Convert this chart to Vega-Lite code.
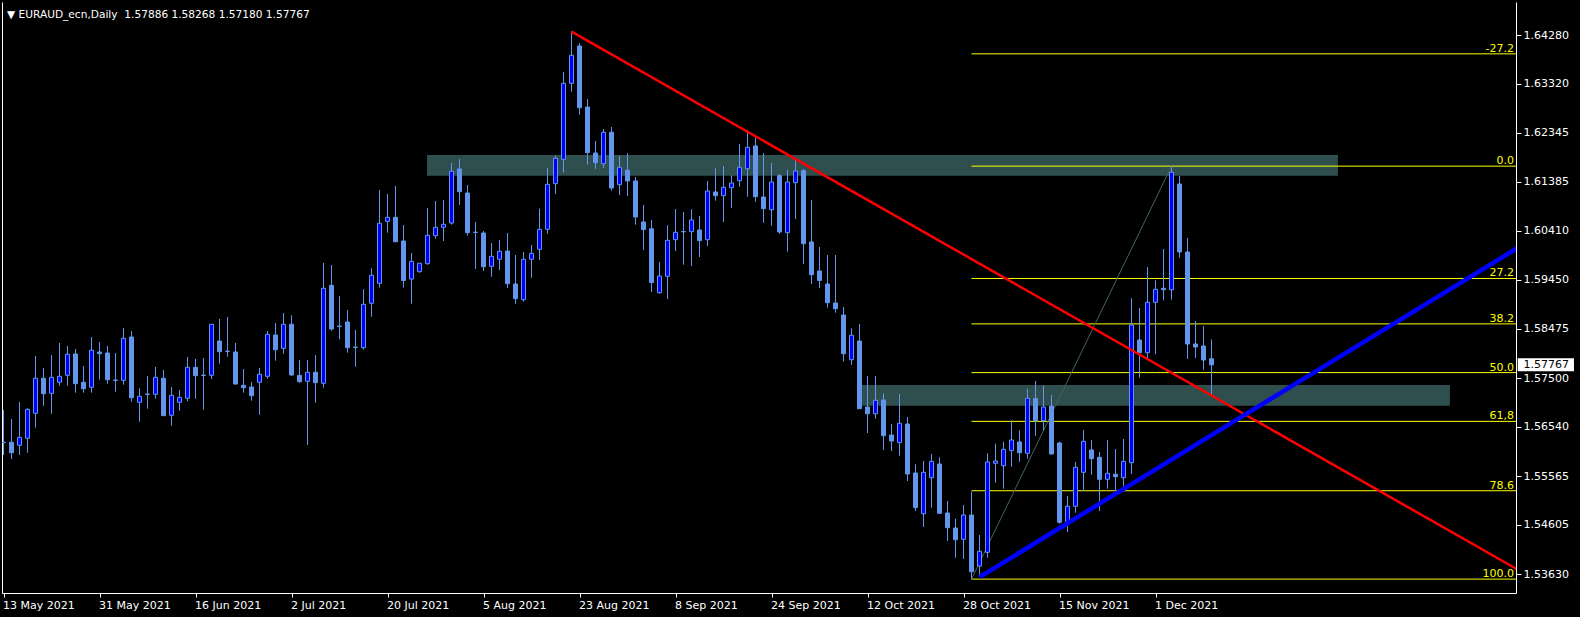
{
  "$schema": "https://vega.github.io/schema/vega-lite/v6.json",
  "width": 1514,
  "height": 591,
  "autosize": {"type": "none"},
  "padding": {"left": 2, "top": 2, "right": 64, "bottom": 24},
  "background": "#000000",
  "title": {"text": "▼ EURAUD_ecn,Daily\u00a0 1.57886 1.58268 1.57180 1.57767", "anchor": "start", "frame": "group", "offset": -27, "dx": 5, "color": "#FFFFFF", "font": "DejaVu Sans", "fontSize": 10.6, "fontWeight": "normal", "baseline": "alphabetic"},
  "resolve": {"axis": {"x": "independent", "y": "independent"}},
  "config": {
    "view": {"stroke": null},
    "scale": {"continuousPadding": 0},
    "axis": {"domain": true, "domainColor": "#FFFFFF", "domainWidth": 1, "grid": false},
    "axisX": {"ticks": true, "tickColor": "#FFFFFF", "tickSize": 4, "labelColor": "#FFFFFF", "labelFont": "DejaVu Sans", "labelFontSize": 11, "labelAlign": "left", "labelOffset": -1, "labelPadding": 2, "labelFlush": false, "labelOverlap": false},
    "axisY": {"ticks": true, "tickColor": "#FFFFFF", "tickSize": 5, "labelColor": "#FFFFFF", "labelFont": "DejaVu Sans", "labelFontSize": 11, "labelPadding": 2, "labelFlush": false, "labelOverlap": false}
  },
  "datasets": {
    "zones": [
      {"i": 52.94, "i2": 166.8, "p": 1.61910, "p2": 1.61501},
      {"i": 106.75, "i2": 180.8, "p": 1.57368, "p2": 1.56959}
    ],
    "fib": [
      {"lvl": "-27.2", "p": 1.63908, "i": 121, "i2": 189.0625},
      {"lvl": "0.0", "p": 1.61690, "i": 121, "i2": 189.0625},
      {"lvl": "27.2", "p": 1.59472, "i": 121, "i2": 189.0625},
      {"lvl": "38.2", "p": 1.58575, "i": 121, "i2": 189.0625},
      {"lvl": "50.0", "p": 1.57613, "i": 121, "i2": 189.0625},
      {"lvl": "61,8", "p": 1.56650, "i": 121, "i2": 189.0625},
      {"lvl": "78.6", "p": 1.55280, "i": 121, "i2": 189.0625},
      {"lvl": "100.0", "p": 1.53535, "i": 121, "i2": 189.0625}
    ],
    "base": [{"i": 121, "p": 1.53535}, {"i": 146, "p": 1.61690}],
    "red": [{"i": 71, "p": 1.64345}, {"i": 195, "p": 1.53210}],
    "blue": [{"i": 122, "p": 1.53575}, {"i": 195, "p": 1.60629}],
    "box": [{"i": 189.28, "i2": 196.31, "p": 1.57896, "p2": 1.57639, "t": "1.57767", "ti": 190, "tp": 1.57767}],
    "candles": [
      {"i":0,"o":1.56237,"h":1.56875,"l":1.55986,"c":1.56230},
      {"i":1,"o":1.56237,"h":1.56697,"l":1.55907,"c":1.56031},
      {"i":2,"o":1.56177,"h":1.57033,"l":1.55986,"c":1.56335},
      {"i":3,"o":1.56316,"h":1.56908,"l":1.56031,"c":1.56888},
      {"i":4,"o":1.56809,"h":1.57941,"l":1.56525,"c":1.57501},
      {"i":5,"o":1.57501,"h":1.57704,"l":1.56959,"c":1.57196},
      {"i":6,"o":1.57204,"h":1.57961,"l":1.56801,"c":1.57520},
      {"i":7,"o":1.57422,"h":1.58198,"l":1.57354,"c":1.57540},
      {"i":8,"o":1.57560,"h":1.58138,"l":1.57354,"c":1.57975},
      {"i":9,"o":1.57980,"h":1.58079,"l":1.57216,"c":1.57394},
      {"i":10,"o":1.57422,"h":1.57743,"l":1.57216,"c":1.57295},
      {"i":11,"o":1.57323,"h":1.58316,"l":1.57216,"c":1.58054},
      {"i":12,"o":1.58020,"h":1.58217,"l":1.57473,"c":1.57986},
      {"i":13,"o":1.58000,"h":1.58138,"l":1.57394,"c":1.57473},
      {"i":14,"o":1.57465,"h":1.58000,"l":1.57236,"c":1.57458},
      {"i":15,"o":1.57461,"h":1.58494,"l":1.57374,"c":1.58290},
      {"i":16,"o":1.58316,"h":1.58435,"l":1.57038,"c":1.57117},
      {"i":17,"o":1.57027,"h":1.57303,"l":1.56644,"c":1.57145},
      {"i":18,"o":1.57188,"h":1.57546,"l":1.56900,"c":1.57182},
      {"i":19,"o":1.57185,"h":1.57724,"l":1.57098,"c":1.57520},
      {"i":20,"o":1.57501,"h":1.57664,"l":1.56758,"c":1.56762},
      {"i":21,"o":1.56770,"h":1.57329,"l":1.56565,"c":1.57165},
      {"i":22,"o":1.57027,"h":1.57270,"l":1.56861,"c":1.57125},
      {"i":23,"o":1.57106,"h":1.57921,"l":1.57046,"c":1.57718},
      {"i":24,"o":1.57718,"h":1.57882,"l":1.57098,"c":1.57552},
      {"i":25,"o":1.57563,"h":1.57901,"l":1.56880,"c":1.57557},
      {"i":26,"o":1.57560,"h":1.58573,"l":1.57487,"c":1.58567},
      {"i":27,"o":1.58237,"h":1.58672,"l":1.57789,"c":1.58026},
      {"i":28,"o":1.58036,"h":1.58711,"l":1.57927,"c":1.58032},
      {"i":29,"o":1.58020,"h":1.58198,"l":1.57374,"c":1.57388},
      {"i":30,"o":1.57362,"h":1.57684,"l":1.57216,"c":1.57315},
      {"i":31,"o":1.57329,"h":1.57428,"l":1.57058,"c":1.57157},
      {"i":32,"o":1.57422,"h":1.57704,"l":1.56782,"c":1.57580},
      {"i":33,"o":1.57540,"h":1.58435,"l":1.57493,"c":1.58369},
      {"i":34,"o":1.58356,"h":1.58593,"l":1.57848,"c":1.58065},
      {"i":35,"o":1.58093,"h":1.58790,"l":1.57986,"c":1.58567},
      {"i":36,"o":1.58567,"h":1.58745,"l":1.57552,"c":1.57566},
      {"i":37,"o":1.57560,"h":1.57862,"l":1.57414,"c":1.57433},
      {"i":38,"o":1.57441,"h":1.57862,"l":1.56183,"c":1.57619},
      {"i":39,"o":1.57619,"h":1.57961,"l":1.57019,"c":1.57414},
      {"i":40,"o":1.57402,"h":1.59778,"l":1.57315,"c":1.59278},
      {"i":41,"o":1.59337,"h":1.59738,"l":1.58441,"c":1.58474},
      {"i":42,"o":1.58530,"h":1.59126,"l":1.58271,"c":1.58524},
      {"i":43,"o":1.58612,"h":1.58849,"l":1.58006,"c":1.58105},
      {"i":44,"o":1.58116,"h":1.58454,"l":1.57730,"c":1.58110},
      {"i":45,"o":1.58105,"h":1.59258,"l":1.58065,"c":1.58962},
      {"i":46,"o":1.58982,"h":1.59673,"l":1.58717,"c":1.59535},
      {"i":47,"o":1.59377,"h":1.61219,"l":1.59290,"c":1.60562},
      {"i":48,"o":1.60601,"h":1.61140,"l":1.60376,"c":1.60680},
      {"i":49,"o":1.60680,"h":1.61298,"l":1.60190,"c":1.60198},
      {"i":50,"o":1.60212,"h":1.60528,"l":1.59290,"c":1.59432},
      {"i":51,"o":1.59460,"h":1.59975,"l":1.58974,"c":1.59811},
      {"i":52,"o":1.59606,"h":1.59778,"l":1.59586,"c":1.59772},
      {"i":53,"o":1.59764,"h":1.60864,"l":1.59744,"c":1.60325},
      {"i":54,"o":1.60317,"h":1.61002,"l":1.60257,"c":1.60483},
      {"i":55,"o":1.60483,"h":1.61022,"l":1.60212,"c":1.60542},
      {"i":56,"o":1.60567,"h":1.61752,"l":1.60534,"c":1.61588},
      {"i":57,"o":1.61634,"h":1.61831,"l":1.60923,"c":1.61186},
      {"i":58,"o":1.61160,"h":1.61318,"l":1.60317,"c":1.60376},
      {"i":59,"o":1.60386,"h":1.60587,"l":1.59659,"c":1.60381},
      {"i":60,"o":1.60370,"h":1.60409,"l":1.59620,"c":1.59704},
      {"i":61,"o":1.59712,"h":1.60172,"l":1.59507,"c":1.59910},
      {"i":62,"o":1.59851,"h":1.60232,"l":1.59639,"c":1.60009},
      {"i":63,"o":1.60015,"h":1.60370,"l":1.59284,"c":1.59369},
      {"i":64,"o":1.59363,"h":1.59935,"l":1.58974,"c":1.59073},
      {"i":65,"o":1.59053,"h":1.59995,"l":1.59013,"c":1.59851},
      {"i":66,"o":1.59851,"h":1.60133,"l":1.59487,"c":1.59969},
      {"i":67,"o":1.60048,"h":1.60850,"l":1.59837,"c":1.60443},
      {"i":68,"o":1.60443,"h":1.61654,"l":1.60356,"c":1.61332},
      {"i":69,"o":1.61344,"h":1.61897,"l":1.61140,"c":1.61845},
      {"i":70,"o":1.61825,"h":1.63549,"l":1.61561,"c":1.63326},
      {"i":71,"o":1.63326,"h":1.64350,"l":1.63160,"c":1.63879},
      {"i":72,"o":1.64063,"h":1.64122,"l":1.62706,"c":1.62844},
      {"i":73,"o":1.62858,"h":1.63016,"l":1.61719,"c":1.61956},
      {"i":74,"o":1.61950,"h":1.62187,"l":1.61634,"c":1.61758},
      {"i":75,"o":1.61739,"h":1.62424,"l":1.61654,"c":1.62359},
      {"i":76,"o":1.62359,"h":1.62463,"l":1.61205,"c":1.61259},
      {"i":77,"o":1.61324,"h":1.61891,"l":1.61120,"c":1.61667},
      {"i":78,"o":1.61608,"h":1.61950,"l":1.61101,"c":1.61397},
      {"i":79,"o":1.61397,"h":1.61476,"l":1.60534,"c":1.60686},
      {"i":80,"o":1.60587,"h":1.60923,"l":1.60034,"c":1.60439},
      {"i":81,"o":1.60453,"h":1.60627,"l":1.59205,"c":1.59392},
      {"i":82,"o":1.59191,"h":1.59797,"l":1.59171,"c":1.59521},
      {"i":83,"o":1.59515,"h":1.60522,"l":1.59067,"c":1.60226},
      {"i":84,"o":1.60238,"h":1.60844,"l":1.60015,"c":1.60384},
      {"i":85,"o":1.60399,"h":1.60785,"l":1.59744,"c":1.60393},
      {"i":86,"o":1.60396,"h":1.60838,"l":1.59718,"c":1.60627},
      {"i":87,"o":1.60429,"h":1.60706,"l":1.59896,"c":1.60218},
      {"i":88,"o":1.60238,"h":1.61397,"l":1.60113,"c":1.61199},
      {"i":89,"o":1.61180,"h":1.61648,"l":1.61008,"c":1.61107},
      {"i":90,"o":1.61107,"h":1.61693,"l":1.60587,"c":1.61272},
      {"i":91,"o":1.61265,"h":1.61509,"l":1.60864,"c":1.61357},
      {"i":92,"o":1.61403,"h":1.62128,"l":1.61284,"c":1.61667},
      {"i":93,"o":1.61640,"h":1.62404,"l":1.61087,"c":1.62062},
      {"i":94,"o":1.62088,"h":1.62260,"l":1.60988,"c":1.61087},
      {"i":95,"o":1.61081,"h":1.61950,"l":1.60573,"c":1.60850},
      {"i":96,"o":1.60830,"h":1.61752,"l":1.60514,"c":1.61377},
      {"i":97,"o":1.61502,"h":1.61535,"l":1.60356,"c":1.60390},
      {"i":98,"o":1.60376,"h":1.61614,"l":1.60001,"c":1.61377},
      {"i":99,"o":1.61363,"h":1.61817,"l":1.60646,"c":1.61595},
      {"i":100,"o":1.61600,"h":1.61634,"l":1.59758,"c":1.60159},
      {"i":101,"o":1.60192,"h":1.61022,"l":1.59363,"c":1.59546},
      {"i":102,"o":1.59620,"h":1.60093,"l":1.59284,"c":1.59432},
      {"i":103,"o":1.59363,"h":1.59935,"l":1.58895,"c":1.58994},
      {"i":104,"o":1.58988,"h":1.59935,"l":1.58796,"c":1.58875},
      {"i":105,"o":1.58751,"h":1.58909,"l":1.57832,"c":1.57986},
      {"i":106,"o":1.57868,"h":1.58488,"l":1.57769,"c":1.58350},
      {"i":107,"o":1.58237,"h":1.58573,"l":1.56895,"c":1.56900},
      {"i":108,"o":1.56934,"h":1.57546,"l":1.56420,"c":1.56801},
      {"i":109,"o":1.56801,"h":1.57546,"l":1.56703,"c":1.57066},
      {"i":110,"o":1.57072,"h":1.57204,"l":1.56085,"c":1.56367},
      {"i":111,"o":1.56381,"h":1.56598,"l":1.56065,"c":1.56262},
      {"i":112,"o":1.56229,"h":1.57191,"l":1.55972,"c":1.56612},
      {"i":113,"o":1.56598,"h":1.56736,"l":1.55472,"c":1.55611},
      {"i":114,"o":1.55630,"h":1.55802,"l":1.54880,"c":1.54945},
      {"i":115,"o":1.54827,"h":1.55867,"l":1.54564,"c":1.55644},
      {"i":116,"o":1.55538,"h":1.56006,"l":1.54945,"c":1.55861},
      {"i":117,"o":1.55808,"h":1.55940,"l":1.54821,"c":1.54835},
      {"i":118,"o":1.54841,"h":1.55078,"l":1.54288,"c":1.54550},
      {"i":119,"o":1.54544,"h":1.54728,"l":1.53958,"c":1.54313},
      {"i":120,"o":1.54321,"h":1.54999,"l":1.53932,"c":1.54801},
      {"i":121,"o":1.54801,"h":1.55261,"l":1.53535,"c":1.53681},
      {"i":122,"o":1.53794,"h":1.54406,"l":1.53583,"c":1.54084},
      {"i":123,"o":1.54064,"h":1.56019,"l":1.53958,"c":1.55848},
      {"i":124,"o":1.55822,"h":1.56209,"l":1.55439,"c":1.55867},
      {"i":125,"o":1.55775,"h":1.56249,"l":1.55320,"c":1.56098},
      {"i":126,"o":1.56071,"h":1.56671,"l":1.55755,"c":1.56282},
      {"i":127,"o":1.56243,"h":1.56474,"l":1.55854,"c":1.56031},
      {"i":128,"o":1.56019,"h":1.57289,"l":1.55913,"c":1.57106},
      {"i":129,"o":1.57098,"h":1.57447,"l":1.56361,"c":1.56663},
      {"i":130,"o":1.56663,"h":1.57354,"l":1.56474,"c":1.56934},
      {"i":131,"o":1.56954,"h":1.57171,"l":1.56000,"c":1.56006},
      {"i":132,"o":1.56223,"h":1.56249,"l":1.54629,"c":1.54657},
      {"i":133,"o":1.54669,"h":1.55176,"l":1.54465,"c":1.54973},
      {"i":134,"o":1.54973,"h":1.55848,"l":1.54846,"c":1.55743},
      {"i":135,"o":1.55644,"h":1.56480,"l":1.55275,"c":1.56256},
      {"i":136,"o":1.56085,"h":1.56282,"l":1.55597,"c":1.55913},
      {"i":137,"o":1.55940,"h":1.56045,"l":1.54880,"c":1.55506},
      {"i":138,"o":1.55506,"h":1.56282,"l":1.55320,"c":1.55625},
      {"i":139,"o":1.55605,"h":1.56104,"l":1.55275,"c":1.55557},
      {"i":140,"o":1.55538,"h":1.56302,"l":1.55328,"c":1.55861},
      {"i":141,"o":1.55834,"h":1.59080,"l":1.55611,"c":1.58553},
      {"i":142,"o":1.58257,"h":1.58889,"l":1.57512,"c":1.58006},
      {"i":143,"o":1.58006,"h":1.59699,"l":1.57882,"c":1.59001},
      {"i":144,"o":1.59001,"h":1.59436,"l":1.57975,"c":1.59258},
      {"i":145,"o":1.59278,"h":1.60054,"l":1.59041,"c":1.59250},
      {"i":146,"o":1.59250,"h":1.61690,"l":1.59053,"c":1.61569},
      {"i":147,"o":1.61338,"h":1.61496,"l":1.59882,"c":1.59995},
      {"i":148,"o":1.59995,"h":1.60271,"l":1.57882,"c":1.58178},
      {"i":149,"o":1.58178,"h":1.58632,"l":1.57901,"c":1.58119},
      {"i":150,"o":1.58138,"h":1.58533,"l":1.57664,"c":1.57862},
      {"i":151,"o":1.57886,"h":1.58268,"l":1.57180,"c":1.57767}
    ]
  },
  "layer": [
    {
      "data": {"name": "zones"},
      "mark": {"type": "rect", "fill": "#2F4F4F", "clip": true},
      "encoding": {
        "x": {"field": "i", "type": "quantitative", "scale": {"domain": [-0.1875, 189.0625], "nice": false, "zero": false, "padding": 0}, "axis": null},
        "x2": {"field": "i2"},
        "y": {"field": "p", "type": "quantitative", "scale": {"domain": [1.532606, 1.649317], "nice": false, "zero": false, "padding": 0},
          "axis": {"orient": "left", "title": null, "ticks": false, "labels": false, "domain": true}},
        "y2": {"field": "p2"}
      }
    },
    {
      "data": {"name": "fib"},
      "mark": {"type": "rule", "color": "#FFFF00", "strokeWidth": 1, "clip": true},
      "encoding": {
        "x": {"field": "i", "type": "quantitative", "scale": {"domain": [-0.1875, 189.0625], "nice": false, "zero": false, "padding": 0}, "axis": null},
        "x2": {"field": "i2"},
        "y": {"field": "p", "type": "quantitative", "scale": {"domain": [1.532606, 1.649317], "nice": false, "zero": false, "padding": 0}, "axis": null}
      }
    },
    {
      "data": {"name": "base"},
      "mark": {"type": "line", "color": "#46635E", "strokeWidth": 1, "clip": true},
      "encoding": {
        "x": {"field": "i", "type": "quantitative", "scale": {"domain": [-0.1875, 189.0625], "nice": false, "zero": false, "padding": 0}, "axis": null},
        "y": {"field": "p", "type": "quantitative", "scale": {"domain": [1.532606, 1.649317], "nice": false, "zero": false, "padding": 0}, "axis": null}
      }
    },
    {
      "data": {"name": "candles"},
      "mark": {"type": "rule", "color": "#6495ED", "strokeWidth": 1, "clip": true},
      "encoding": {
        "x": {"field": "i", "type": "quantitative", "scale": {"domain": [-0.1875, 189.0625], "nice": false, "zero": false, "padding": 0},
          "axis": {"orient": "bottom", "title": null, "values": [0,12,24,36,48,60,72,84,96,108,120,132,144], "labelExpr": "['13 May 2021','31 May 2021','16 Jun 2021','2 Jul 2021','20 Jul 2021','5 Aug 2021','23 Aug 2021','8 Sep 2021','24 Sep 2021','12 Oct 2021','28 Oct 2021','15 Nov 2021','1 Dec 2021'][round(datum.value/12)]"}},
        "y": {"field": "l", "type": "quantitative", "scale": {"domain": [1.532606, 1.649317], "nice": false, "zero": false, "padding": 0},
          "axis": {"orient": "right", "title": null, "format": ".5f", "values": [1.6428,1.6332,1.62345,1.61385,1.6041,1.5945,1.58475,1.575,1.5654,1.55565,1.54605,1.5363]}},
        "y2": {"field": "h"}
      }
    },
    {
      "data": {"name": "candles"},
      "mark": {"type": "bar", "width": 4, "stroke": "#6495ED", "strokeWidth": 1, "clip": true},
      "encoding": {
        "x": {"field": "i", "type": "quantitative", "scale": {"domain": [-0.1875, 189.0625], "nice": false, "zero": false, "padding": 0}, "axis": null},
        "y": {"field": "o", "type": "quantitative", "scale": {"domain": [1.532606, 1.649317], "nice": false, "zero": false, "padding": 0}, "axis": null},
        "y2": {"field": "c"},
        "fill": {"condition": {"test": "datum.c > datum.o", "value": "#0000FF"}, "value": "#6495ED"}
      }
    },
    {
      "data": {"name": "red"},
      "mark": {"type": "line", "color": "#FF0000", "strokeWidth": 2.5, "clip": true},
      "encoding": {
        "x": {"field": "i", "type": "quantitative", "scale": {"domain": [-0.1875, 189.0625], "nice": false, "zero": false, "padding": 0}, "axis": null},
        "y": {"field": "p", "type": "quantitative", "scale": {"domain": [1.532606, 1.649317], "nice": false, "zero": false, "padding": 0}, "axis": null}
      }
    },
    {
      "data": {"name": "blue"},
      "mark": {"type": "line", "color": "#0000FF", "strokeWidth": 4.5, "clip": true},
      "encoding": {
        "x": {"field": "i", "type": "quantitative", "scale": {"domain": [-0.1875, 189.0625], "nice": false, "zero": false, "padding": 0}, "axis": null},
        "y": {"field": "p", "type": "quantitative", "scale": {"domain": [1.532606, 1.649317], "nice": false, "zero": false, "padding": 0}, "axis": null}
      }
    },
    {
      "data": {"name": "fib"},
      "mark": {"type": "text", "color": "#FFFF00", "font": "DejaVu Sans", "fontSize": 11, "align": "right", "baseline": "alphabetic", "dx": -2, "dy": -2},
      "encoding": {
        "x": {"field": "i2", "type": "quantitative", "scale": {"domain": [-0.1875, 189.0625], "nice": false, "zero": false, "padding": 0}, "axis": null},
        "y": {"field": "p", "type": "quantitative", "scale": {"domain": [1.532606, 1.649317], "nice": false, "zero": false, "padding": 0}, "axis": null},
        "text": {"field": "lvl"}
      }
    },
    {
      "data": {"name": "box"},
      "mark": {"type": "rect", "fill": "#FFFFFF", "clip": false},
      "encoding": {
        "x": {"field": "i", "type": "quantitative", "scale": {"domain": [-0.1875, 189.0625], "nice": false, "zero": false, "padding": 0}, "axis": null},
        "x2": {"field": "i2"},
        "y": {"field": "p", "type": "quantitative", "scale": {"domain": [1.532606, 1.649317], "nice": false, "zero": false, "padding": 0}, "axis": null},
        "y2": {"field": "p2"}
      }
    },
    {
      "data": {"name": "box"},
      "mark": {"type": "text", "color": "#000000", "font": "DejaVu Sans", "fontSize": 11, "align": "left", "baseline": "middle", "clip": false},
      "encoding": {
        "x": {"field": "ti", "type": "quantitative", "scale": {"domain": [-0.1875, 189.0625], "nice": false, "zero": false, "padding": 0}, "axis": null},
        "y": {"field": "tp", "type": "quantitative", "scale": {"domain": [1.532606, 1.649317], "nice": false, "zero": false, "padding": 0}, "axis": null},
        "text": {"field": "t"}
      }
    }
  ]
}
